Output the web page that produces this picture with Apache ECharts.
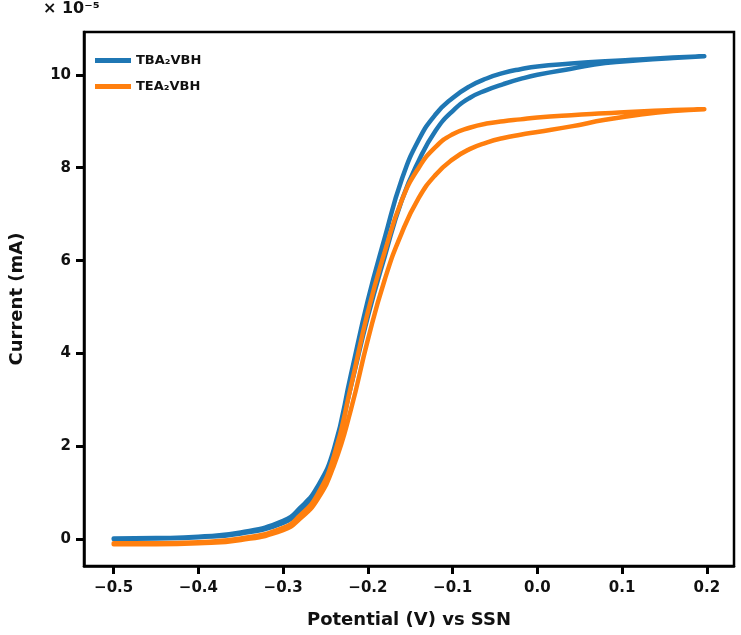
<!DOCTYPE html>
<html>
<head>
<meta charset="utf-8">
<script src="https://cdn.jsdelivr.net/npm/echarts@6/dist/echarts.min.js"></script>
<style>
html, body { margin: 0; padding: 0; background: #fff; }
#main { width: 741px; height: 635px; }
</style>
</head>
<body>
<div id="main"></div>
<script>
// 电位 (V)，正扫/回扫共用
var potential = [-0.5, -0.45, -0.4, -0.35, -0.3, -0.28, -0.26, -0.24, -0.22, -0.2, -0.18, -0.16,
	-0.14, -0.12, -0.1, -0.08, -0.06, -0.04, -0.02, 0, 0.04, 0.08, 0.12, 0.16, 0.197];
// 电流 (×1e-5 mA)
var tbaForward = [0.01, 0.02, 0.05, 0.13, 0.36, 0.62, 1.05, 1.85, 3.3, 4.8, 6.1, 7.3,
	8.15, 8.8, 9.22, 9.5, 9.67, 9.8, 9.91, 10.0, 10.13, 10.25, 10.31, 10.36, 10.4];
var tbaReverse = [0.02, 0.03, 0.06, 0.15, 0.4, 0.68, 1.12, 1.95, 3.55, 5.15, 6.5, 7.75,
	8.6, 9.15, 9.5, 9.75, 9.92, 10.04, 10.12, 10.18, 10.24, 10.29, 10.33, 10.37, 10.4];
var teaForward = [-0.1, -0.1, -0.08, -0.01, 0.2, 0.45, 0.85, 1.6, 2.8, 4.3, 5.6, 6.6,
	7.35, 7.85, 8.18, 8.4, 8.54, 8.64, 8.71, 8.77, 8.89, 9.03, 9.14, 9.22, 9.26];
var teaReverse = [-0.08, -0.08, -0.06, 0.02, 0.25, 0.52, 0.95, 1.8, 3.3, 4.9, 6.2, 7.3,
	8.0, 8.45, 8.72, 8.86, 8.95, 9.0, 9.04, 9.08, 9.13, 9.17, 9.21, 9.24, 9.26];
var xTicks = [-0.5, -0.4, -0.3, -0.2, -0.1, 0, 0.1, 0.2];
var yTicks = [0, 2, 4, 6, 8, 10];

// 正扫 + 回扫 拼成闭合曲线
function loop(fwd, rev) {
	var pts = [];
	for (var i = 0; i < potential.length; i++) pts.push([potential[i], fwd[i]]);
	for (var j = potential.length - 1; j >= 0; j--) pts.push([potential[j], rev[j]]);
	return pts;
}

var myChart = echarts.init(document.getElementById('main'));
var font = 'DejaVu Sans';

option = {
	animation: false,
	textStyle: { fontFamily: font },
	grid: {
		left: 79,
		right: 7,
		top: 32,
		bottom: 69,
		show: true,
		borderColor: '#000',
		borderWidth: 2.5,
		backgroundColor: '#fff'
	},
	legend: {
		left: 90,
		top: 49,
		orient: 'vertical',
		itemWidth: 36,
		itemHeight: 5,
		itemGap: 13,
		icon: 'rect',
		textStyle: { fontFamily: font, fontWeight: 'bold', fontSize: 13, color: '#111' },
		data: ['TBA₂VBH', 'TEA₂VBH']
	},
	graphic: [{
		type: 'text',
		left: 43,
		top: 1,
		style: { text: '× 10⁻⁵', font: 'bold 16px "DejaVu Sans"', fill: '#111' }
	}],
	xAxis: {
		type: 'value',
		min: -0.535,
		max: 0.232,
		name: 'Potential (V) vs SSN',
		nameLocation: 'middle',
		nameGap: 45,
		nameTextStyle: { fontFamily: font, fontWeight: 'bold', fontSize: 18, color: '#111' },
		axisLine: { show: true, onZero: false, lineStyle: { color: '#000', width: 2.5 } },
		axisTick: { show: true, length: 8, lineStyle: { color: '#000', width: 3 }, customValues: xTicks },
		axisLabel: {
			margin: 15,
			fontFamily: font, fontWeight: 'bold', fontSize: 15, color: '#111',
			customValues: xTicks,
			formatter: function (v) { return (v < -1e-9 ? '−' : '') + Math.abs(v).toFixed(1); }
		},
		splitLine: { show: false }
	},
	yAxis: {
		type: 'value',
		min: -0.57,
		max: 10.92,
		name: 'Current (mA)',
		nameLocation: 'middle',
		nameGap: 58,
		nameTextStyle: { fontFamily: font, fontWeight: 'bold', fontSize: 18, color: '#111' },
		axisLine: { show: true, onZero: false, lineStyle: { color: '#000', width: 2.5 } },
		axisTick: { show: true, length: 8, lineStyle: { color: '#000', width: 3 }, customValues: yTicks },
		axisLabel: {
			margin: 13,
			fontFamily: font, fontWeight: 'bold', fontSize: 15, color: '#111',
			customValues: yTicks
		},
		splitLine: { show: false }
	},
	series: [{
		name: 'TBA₂VBH',
		type: 'line',
		color: '#1f77b4',
		showSymbol: false,
		smooth: 0.5,
		lineStyle: { width: 4.5, cap: 'round', join: 'round' },
		data: loop(tbaForward, tbaReverse)
	}, {
		name: 'TEA₂VBH',
		type: 'line',
		color: '#ff7f0e',
		showSymbol: false,
		smooth: 0.5,
		lineStyle: { width: 4.5, cap: 'round', join: 'round' },
		data: loop(teaForward, teaReverse)
	}]
};
myChart.setOption(option);
</script>
</body>
</html>
